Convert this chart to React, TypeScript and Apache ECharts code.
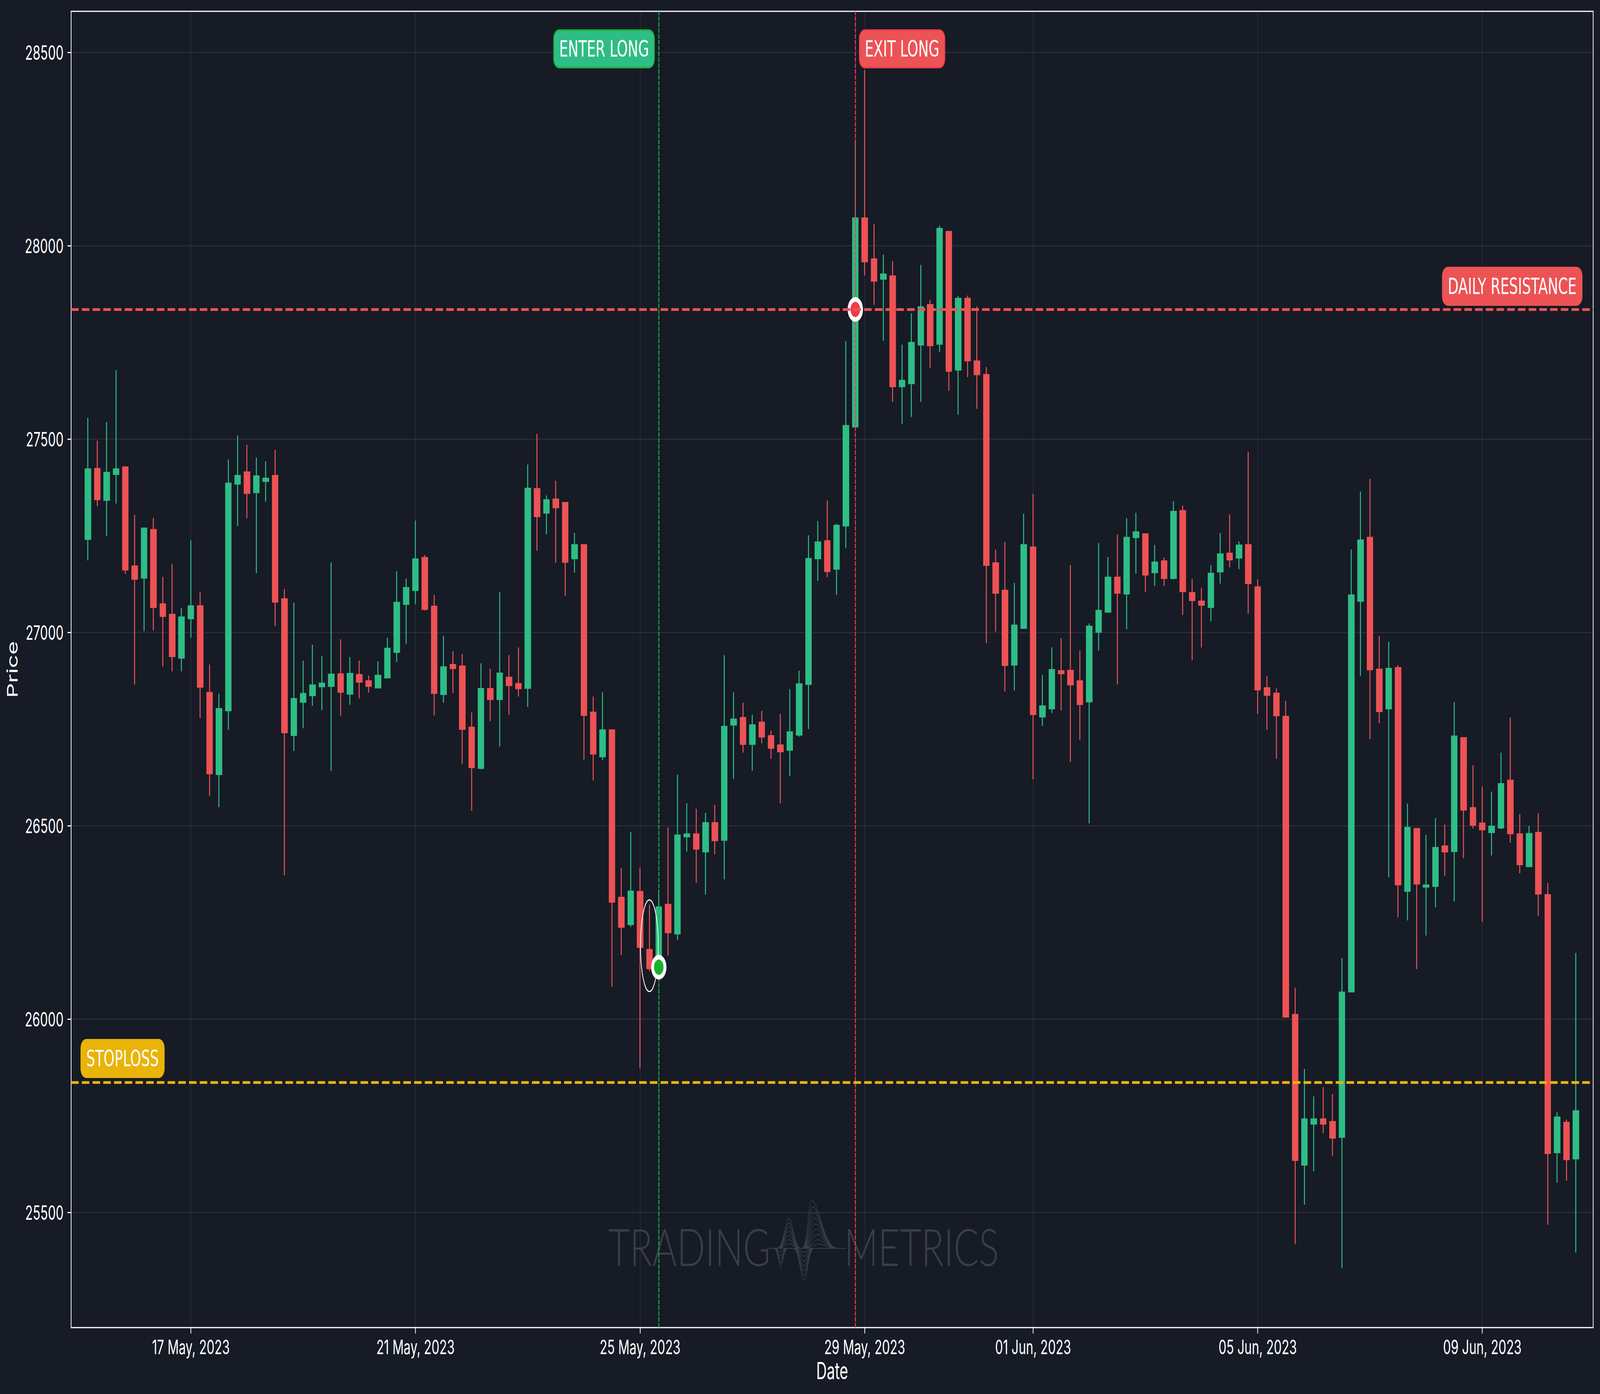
import React, { useEffect, useRef } from 'react';
import * as echarts from 'echarts';

const H4 = 4 * 3600 * 1000;
const firstCandle = Date.UTC(2023, 4, 15, 4);
const at = (candle: number) => firstCandle + candle * H4;

const opens = [27241, 27423, 27342, 27409, 27427, 27171, 27141, 27265, 27073, 27046, 26934, 27036, 27068, 26844, 26633, 26798, 27384, 27414, 27362, 27391, 27405, 27086, 26734, 26820, 26837, 26860, 26861, 26892, 26841, 26890, 26874, 26857, 26883, 26949, 27073, 27109, 27193, 27067, 26840, 26916, 26912, 26754, 26649, 26854, 26827, 26883, 26867, 26856, 27371, 27309, 27344, 27335, 27191, 27226, 26793, 26679, 26747, 26314, 26245, 26329, 26179, 26133, 26296, 26221, 26472, 26478, 26433, 26507, 26463, 26761, 26779, 26711, 26767, 26732, 26708, 26696, 26735, 26866, 27191, 27236, 27164, 27276, 27532, 28071, 27965, 27914, 27921, 27636, 27644, 27744, 27847, 27746, 28036, 27679, 27863, 27701, 27666, 27179, 27108, 26916, 27011, 27220, 26782, 26803, 26900, 26901, 26874, 26821, 27001, 27053, 27142, 27100, 27246, 27254, 27155, 27184, 27140, 27314, 27102, 27080, 27065, 27157, 27204, 27193, 27226, 27117, 26856, 26842, 26782, 26011, 25623, 25729, 25741, 25734, 25695, 26071, 27081, 27245, 26904, 26803, 26908, 26331, 26492, 26342, 26344, 26447, 26434, 26727, 26546, 26506, 26483, 26495, 26617, 26478, 26395, 26482, 26321, 25655, 25732, 25639];
const closes = [27422, 27344, 27413, 27422, 27162, 27138, 27269, 27065, 27042, 26938, 27039, 27068, 26859, 26635, 26802, 27385, 27405, 27360, 27404, 27398, 27079, 26741, 26828, 26841, 26863, 26868, 26891, 26846, 26893, 26872, 26861, 26888, 26958, 27077, 27115, 27189, 27060, 26843, 26910, 26907, 26750, 26651, 26854, 26827, 26894, 26863, 26855, 27372, 27300, 27342, 27323, 27182, 27226, 26786, 26686, 26747, 26303, 26238, 26330, 26186, 26131, 26289, 26224, 26475, 26478, 26440, 26507, 26462, 26756, 26775, 26711, 26760, 26730, 26701, 26692, 26742, 26866, 27190, 27233, 27158, 27276, 27534, 28071, 27959, 27909, 27926, 27636, 27651, 27749, 27841, 27742, 28044, 27676, 27863, 27703, 27667, 27174, 27102, 26915, 27018, 27226, 26788, 26809, 26903, 26894, 26865, 26814, 27015, 27056, 27142, 27102, 27245, 27259, 27149, 27181, 27140, 27312, 27106, 27083, 27071, 27152, 27202, 27188, 27225, 27127, 26852, 26838, 26785, 26006, 25635, 25741, 25741, 25729, 25693, 26069, 27096, 27238, 26904, 26796, 26906, 26348, 26495, 26350, 26346, 26443, 26433, 26731, 26541, 26502, 26490, 26498, 26608, 26480, 26400, 26479, 26324, 25653, 25746, 25637, 25762];
const lows = [27186, 27326, 27249, 27333, 27151, 26865, 27003, 27005, 26912, 26899, 26899, 26986, 26778, 26577, 26548, 26748, 27275, 27295, 27153, 27338, 27016, 26372, 26693, 26752, 26810, 26799, 26642, 26784, 26813, 26829, 26844, 26857, 26883, 26923, 26970, 27073, 27056, 26785, 26818, 26843, 26659, 26538, 26646, 26770, 26705, 26787, 26834, 26807, 27211, 27254, 27180, 27094, 27154, 26671, 26617, 26670, 26083, 26165, 26238, 25872, 26124, 26125, 26164, 26205, 26433, 26352, 26322, 26426, 26361, 26621, 26689, 26642, 26713, 26673, 26558, 26628, 26730, 26750, 27133, 27143, 27097, 27218, 27530, 27923, 27847, 27754, 27596, 27539, 27557, 27596, 27684, 27725, 27625, 27563, 27660, 27578, 26972, 27002, 26847, 26850, 27011, 26620, 26758, 26791, 26798, 26665, 26722, 26506, 26953, 27053, 26865, 27008, 27152, 27104, 27120, 27120, 27137, 27045, 26928, 26961, 27028, 27126, 27168, 27163, 27048, 26789, 26748, 26673, 26003, 25418, 25520, 25606, 25705, 25646, 25356, 26071, 26887, 26724, 26765, 26367, 26263, 26255, 26129, 26216, 26289, 26370, 26304, 26416, 26493, 26251, 26423, 26491, 26456, 26377, 26393, 26267, 25468, 25577, 25582, 25396];
const highs = [27555, 27496, 27544, 27678, 27430, 27304, 27271, 27296, 27144, 27177, 27063, 27238, 27105, 26917, 26841, 27447, 27509, 27485, 27452, 27442, 27472, 27112, 27077, 26927, 26968, 26939, 27181, 26982, 26936, 26927, 26888, 26925, 26986, 27158, 27139, 27289, 27200, 27097, 26991, 26951, 26944, 26793, 26920, 26906, 27105, 26941, 26961, 27434, 27513, 27354, 27392, 27336, 27257, 27226, 26834, 26845, 26747, 26391, 26484, 26392, 26296, 26334, 26496, 26632, 26558, 26544, 26533, 26554, 26941, 26845, 26818, 26787, 26797, 26746, 26789, 26853, 26901, 27251, 27288, 27341, 27281, 27753, 28275, 28454, 28056, 27977, 27960, 27744, 27825, 27950, 27860, 28052, 28037, 27870, 27871, 27843, 27686, 27214, 27234, 27128, 27307, 27358, 26890, 26961, 26985, 27174, 26953, 27023, 27231, 27195, 27253, 27295, 27309, 27254, 27226, 27193, 27339, 27328, 27138, 27115, 27174, 27257, 27305, 27235, 27467, 27137, 26887, 26855, 26823, 26081, 25871, 25800, 25824, 25806, 26157, 27214, 27364, 27397, 26990, 26976, 26915, 26557, 26492, 26476, 26520, 26503, 26820, 26727, 26656, 26601, 26588, 26689, 26780, 26530, 26499, 26532, 26352, 25759, 25740, 26171];

const yTicks = [25500, 26000, 26500, 27000, 27500, 28000, 28500];
const xTicks = [Date.UTC(2023, 4, 17), Date.UTC(2023, 4, 21), Date.UTC(2023, 4, 25), Date.UTC(2023, 4, 29), Date.UTC(2023, 5, 1), Date.UTC(2023, 5, 5), Date.UTC(2023, 5, 9)];
const xTickLabels = ['17 May, 2023', '21 May, 2023', '25 May, 2023', '29 May, 2023', '01 Jun, 2023', '05 Jun, 2023', '09 Jun, 2023'];

const resistance = 27835;
const stoploss = 25836;
const entryCandle = 61;
const entryPrice = 26134;
const exitCandle = 82;
const exitPrice = 27835;

const GREEN = '#2ebd85';
const RED = '#ed5254';
const YELLOW = '#e9b308';
const BG = '#161b26';
const FONT = 'Inter, "Liberation Sans", sans-serif';

// watermark logo: nested bells on one base line
const peakOne = [1, 0.86, 0.72, 0.58, 0.44, 0.3, 0.16];
const peakTwo = [1, 0.87, 0.75, 0.63, 0.51, 0.4, 0.29, 0.18, 0.09];
const troughOne = [1, 0.8, 0.6, 0.4, 0.2];
const troughTwo = [1, 0.85, 0.7, 0.55, 0.4, 0.25, 0.12];
const base = 3196;

const bell = (l: number, c: number, r: number, t: number) =>
  `M${l} ${base}C${l + 0.55 * (c - l)} ${base} ${c - 0.3 * (c - l)} ${t} ${c} ${t}C${c + 0.3 * (r - c)} ${t} ${r - 0.55 * (r - c)} ${base} ${r} ${base}`;

const logoPath = [
  `M3148 ${base}L3475 ${base}`,
  ...peakOne.map((f) => bell(3190, 3239, 3288, base - 75 * f)),
  ...peakTwo.map((f) => bell(3294, 3331 + (1 - f) * 34, 3439, base - 122 * f)),
  ...troughOne.map((f) => bell(3178, 3205, 3233, base + 47 * f)),
  ...troughTwo.map((f) => bell(3257, 3301, 3342, base + 82 * f)),
].join('');

echarts.graphic.registerShape('tmLogo', echarts.graphic.extendPath(logoPath, {}) as any);

const boxLabel = (text: string, fill: string, border: string) => ({
  show: true,
  position: 'inside',
  formatter: text,
  color: '#ffffff',
  fontFamily: '"DejaVu Sans"',
  fontSize: 57,
  lineHeight: 62,
  backgroundColor: fill,
  borderColor: border,
  borderWidth: 4,
  borderRadius: 20,
  padding: [12, 20, 18, 20],
});

const boxes = [
  { value: [at(55.15), 28509], label: boxLabel('ENTER LONG', GREEN, '#1fb03a') },
  { value: [at(87), 28509], label: boxLabel('EXIT LONG', RED, '#f03a4a') },
  { value: [at(152.2), 27895], label: boxLabel('DAILY RESISTANCE', RED, RED) },
  { value: [at(3.7), 25898], label: boxLabel('STOPLOSS', YELLOW, YELLOW) },
];

const watermark = (text: string, x: number) => ({
  type: 'text',
  z: 1,
  silent: true,
  x,
  y: 3190,
  scaleX: 1.16,
  style: { text, x: 0, y: 0, fill: '#3a3e48', font: '300 132px Lato, "Open Sans", sans-serif', textAlign: 'left', textVerticalAlign: 'middle' },
});

const App: React.FC = () => {
  const chartRef = useRef<HTMLDivElement | null>(null);

  useEffect(() => {
    if (!chartRef.current) return;
    document.body.style.margin = '0';
    document.body.style.background = BG;
    document.body.style.overflow = 'hidden';

    // the browser may give less than the 6569 we asked for, keep the whole chart on the page
    const fitX = Math.min(1, window.innerWidth / 6569);
    const fitY = Math.min(1, window.innerHeight / 3569);
    chartRef.current.style.transformOrigin = '0 0';
    chartRef.current.style.transform = `scale(${fitX}, ${fitY})`;

    const myChart = echarts.init(chartRef.current, undefined, { renderer: 'svg' });

    const candles = opens.map((o, i) => [at(i), o, closes[i], lows[i], highs[i]]);
    const gridLine = { show: true, lineStyle: { color: 'rgba(255,255,255,0.08)', width: 3 } };

    const option = {
      animation: false,
      backgroundColor: BG,
      grid: { left: 292, top: 29, width: 6249, height: 3370, show: true, borderColor: '#ffffff', borderWidth: 3, backgroundColor: 'transparent' },
      xAxis: {
        type: 'value',
        min: at(-1.796),
        max: at(160.85),
        name: 'Date',
        nameLocation: 'middle',
        nameGap: 80,
        nameTextStyle: { color: '#ffffff', fontFamily: FONT, fontSize: 60 },
        axisLine: { show: false },
        axisTick: { show: true, length: 15, customValues: xTicks, lineStyle: { color: '#ffffff', width: 3 } },
        axisLabel: {
          show: true,
          customValues: xTicks,
          color: '#ffffff',
          fontFamily: FONT,
          fontSize: 51,
          margin: 24,
          hideOverlap: false,
          formatter: (v: number) => xTickLabels[xTicks.indexOf(+v)],
        },
        splitLine: gridLine,
      },
      yAxis: {
        type: 'value',
        min: 25202,
        max: 28606,
        name: 'Price',
        nameLocation: 'middle',
        nameGap: 211,
        nameTextStyle: { color: '#ffffff', fontFamily: FONT, fontSize: 60 },
        axisLine: { show: false },
        axisTick: { show: true, length: 15, customValues: yTicks, lineStyle: { color: '#ffffff', width: 3 } },
        axisLabel: { show: true, customValues: yTicks, color: '#ffffff', fontFamily: FONT, fontSize: 51, margin: 31, formatter: (v: number) => String(v) },
        splitLine: gridLine,
      },
      graphic: [
        watermark('TRADING', 2497),
        watermark('METRICS', 3466),
        { type: 'tmLogo', z: 1, silent: true, style: { fill: 'none', stroke: '#3a3e48', lineWidth: 2 } },
      ],
      series: [
        {
          type: 'candlestick',
          name: 'Price',
          barWidth: 23,
          data: candles,
          itemStyle: { color: GREEN, color0: RED, borderColor: GREEN, borderColor0: RED, borderWidth: 4 },
          markLine: {
            silent: true,
            symbol: 'none',
            z: 3,
            label: { show: false },
            data: [
              { xAxis: at(entryCandle), lineStyle: { color: '#1fb03a', type: [12, 3], width: 4 } },
              { xAxis: at(exitCandle), lineStyle: { color: '#f03a4a', type: [12, 3], width: 4 } },
            ],
          },
        },
        {
          type: 'custom',
          coordinateSystem: 'cartesian2d',
          z: 4,
          silent: true,
          encode: { x: 0, y: 1 },
          data: [[at(59.05), 26308, at(60.95), 26071]],
          renderItem: (_: any, api: any) => {
            const a = api.coord([api.value(0), api.value(1)]);
            const b = api.coord([api.value(2), api.value(3)]);
            return {
              type: 'ellipse',
              shape: { cx: (a[0] + b[0]) / 2, cy: (a[1] + b[1]) / 2, rx: (b[0] - a[0]) / 2, ry: (b[1] - a[1]) / 2 },
              style: { fill: 'none', stroke: '#ffffff', lineWidth: 3 },
            };
          },
        },
        {
          type: 'scatter',
          z: 5,
          symbolSize: 51,
          silent: true,
          data: [
            { value: [at(entryCandle), entryPrice], itemStyle: { color: '#1cb02d', borderColor: '#ffffff', borderWidth: 12, opacity: 1 } },
            { value: [at(exitCandle), exitPrice], itemStyle: { color: '#f03a4a', borderColor: '#ffffff', borderWidth: 12, opacity: 1 } },
          ],
          markLine: {
            silent: true,
            symbol: 'none',
            z: 6,
            label: { show: false },
            data: [
              { yAxis: resistance, lineStyle: { color: RED, type: [31, 13], width: 7 } },
              { yAxis: stoploss, lineStyle: { color: YELLOW, type: [31, 13], width: 7 } },
            ],
          },
        },
        {
          type: 'scatter',
          z: 7,
          symbolSize: 1,
          silent: true,
          itemStyle: { color: 'transparent', opacity: 1 },
          data: boxes,
        },
      ],
    };

    myChart.setOption(option as any);

    return () => {
      myChart.dispose();
    };
  }, []);

  return <div ref={chartRef} style={{ width: 6569, height: 3569 }} />;
};

export default App;
